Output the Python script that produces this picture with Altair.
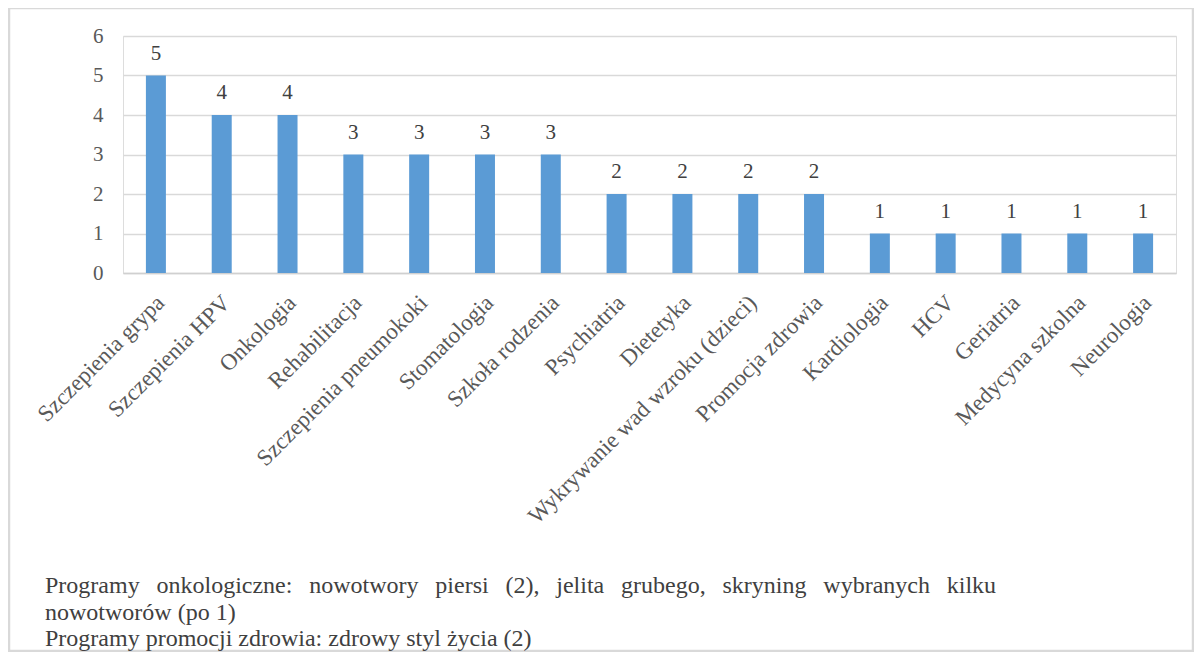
import altair as alt
import pandas as pd

categories = [
    "Szczepienia grypa", "Szczepienia HPV", "Onkologia", "Rehabilitacja",
    "Szczepienia pneumokoki", "Stomatologia", "Szkoła rodzenia", "Psychiatria",
    "Dietetyka", "Wykrywanie wad wzroku (dzieci)", "Promocja zdrowia",
    "Kardiologia", "HCV", "Geriatria", "Medycyna szkolna", "Neurologia",
]
values = [5, 4, 4, 3, 3, 3, 3, 2, 2, 2, 2, 1, 1, 1, 1, 1]
y_ticks = [0, 1, 2, 3, 4, 5, 6]

note_words_1 = ["Programy", "onkologiczne:", "nowotwory", "piersi", "(2),", "jelita",
                "grubego,", "skryning", "wybranych", "kilku"]
note_line_2 = "nowotworów (po 1)"
note_line_3 = "Programy promocji zdrowia: zdrowy styl życia (2)"

FONT = "Liberation Serif"
GAP = "\u00a0\u00a0\u2009"
note_text = GAP.join(note_words_1) + "\n" + note_line_2 + "\n" + note_line_3

df = pd.DataFrame({"cat": categories, "val": values})

W, H = 1053, 237

x_enc = alt.X("cat:N", sort=categories, title=None,
              scale=alt.Scale(paddingInner=0, paddingOuter=0),
              axis=alt.Axis(labelAngle=-45, labelFont=FONT, labelFontSize=23,
                            labelColor="#595959", ticks=False, labelPadding=18,
                            labelOffset=-3, domainColor="#d0d0d0", domainWidth=1.5,
                            grid=False, labelOverlap=False, labelLimit=0))
y_enc = alt.Y("val:Q", title=None,
              scale=alt.Scale(domain=[0, 6], nice=False),
              axis=alt.Axis(values=y_ticks, labelFont=FONT, labelFontSize=21,
                            labelColor="#595959", ticks=False, domain=False,
                            labelOverlap=False,
                            labelPadding=20, gridColor="#d9d9d9", gridWidth=1.5))

base = alt.Chart(df)
bars = base.mark_bar(size=20, color="#5B9BD5").encode(x=x_enc, y=y_enc)
labels = base.mark_text(font=FONT, fontSize=21, color="#404040",
                        baseline="alphabetic", dy=-16).encode(
    x=x_enc, y=y_enc, text="val:Q")

one = pd.DataFrame({"k": [0]})
border = alt.Chart(one).mark_rect(fillOpacity=0, stroke="#d9d9d9", strokeWidth=2.5).encode(
    x=alt.value(-114), x2=alt.value(1070), y=alt.value(-28), y2=alt.value(615))
note = alt.Chart(one).mark_text(font=FONT, fontSize=24, color="#404040", align="left",
                                baseline="alphabetic", lineBreak="\n", lineHeight=26.5).encode(
    x=alt.value(-78), y=alt.value(557), text=alt.value(note_text))

chart = alt.layer(border, bars, labels, note).properties(
    width=W, height=H,
    autosize=alt.AutoSizeParams(type="none"),
    padding={"left": 115, "top": 28, "right": 18, "bottom": 379},
).configure_view(stroke=None).configure(background="white")

chart.save("out.html", embed_options={"renderer": "svg", "actions": False})
